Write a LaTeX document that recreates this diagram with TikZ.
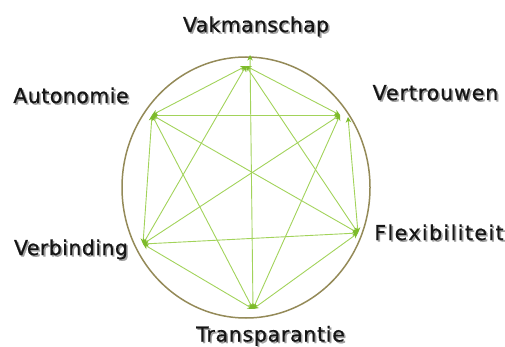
\documentclass[tikz,border=0pt]{standalone}
\usepackage{fontspec}
\setmainfont{DejaVu Sans}
\newfontfamily\lblfont{DejaVu Sans}[FakeBold=0.7]
\usetikzlibrary{arrows.meta,shapes.geometric}
\definecolor{ringcol}{HTML}{948A58}
\definecolor{edgecol}{HTML}{A2D35A}
\definecolor{tipcol}{HTML}{7DBB2A}
\definecolor{txtcol}{HTML}{151515}
\definecolor{shadowcol}{HTML}{A0A0A0}
\newcommand{\shadowtext}[1]{\makebox[0pt][l]{\hspace{1.6pt}\raisebox{-1.6pt}{\textcolor{shadowcol}{#1}}}#1}
\tikzset{
  edge/.style={draw=edgecol, line width=0.9pt,
    {Stealth[length=5.5pt,width=5.5pt,color=tipcol]}-{Stealth[length=5.5pt,width=5.5pt,color=tipcol]}},
  ring/.style={draw=ringcol, line width=1.5pt},
  lbl/.style={font=\lblfont\fontsize{20.5}{24}\selectfont, text=txtcol, inner sep=0pt, anchor=base}
}
\begin{document}
\begin{tikzpicture}[x=1pt,y=-1pt]
\useasboundingbox (0,0) rectangle (505,347);
\node[ring, ellipse, minimum width=248pt, minimum height=261pt, inner sep=0pt] (ring) at (246,187.5) {};
\coordinate (V) at (246,66);
\coordinate (Vtop) at (250,55);
\coordinate (Vt) at (340,115);
\coordinate (Vt2) at (348,117);
\coordinate (F) at (358,233);
\coordinate (T) at (253,309);
\coordinate (Vb) at (143,244);
\coordinate (A) at (152,115);
% edges
\draw[edge] (A) -- (V);
\draw[edge] (A) -- (Vt);
\draw[edge] (A) -- (F);
\draw[edge] (A) -- (T);
\draw[edge] (A) -- (Vb);
\draw[edge] (V) -- (Vt);
\draw[edge] (V) -- (F);
\draw[edge] (T) -- (Vtop);
\draw[edge] (V) -- (Vb);
\draw[edge] (Vt2) -- (F);
\draw[edge] (Vt) -- (T);
\draw[edge] (Vt) -- (Vb);
\draw[edge] (F) -- (T);
\draw[edge] (F) -- (Vb);
\draw[edge] (T) -- (Vb);
% labels with shadow
\foreach \n/\x/\y/\ls/\t in {lv/256/32/1.5/Vakmanschap, la/71/103/2.4/Autonomie, lvt/435.5/100/4.5/Vertrouwen, lvb/71/255/2.2/Verbinding, lf/439/240/7/Flexibiliteit, lt/270.5/341.5/3.5/Transparantie}{
  \node[lbl] (\n) at (\x,\y) {\addfontfeature{LetterSpace=\ls}\shadowtext{\t}};
}
\end{tikzpicture}
\end{document}
